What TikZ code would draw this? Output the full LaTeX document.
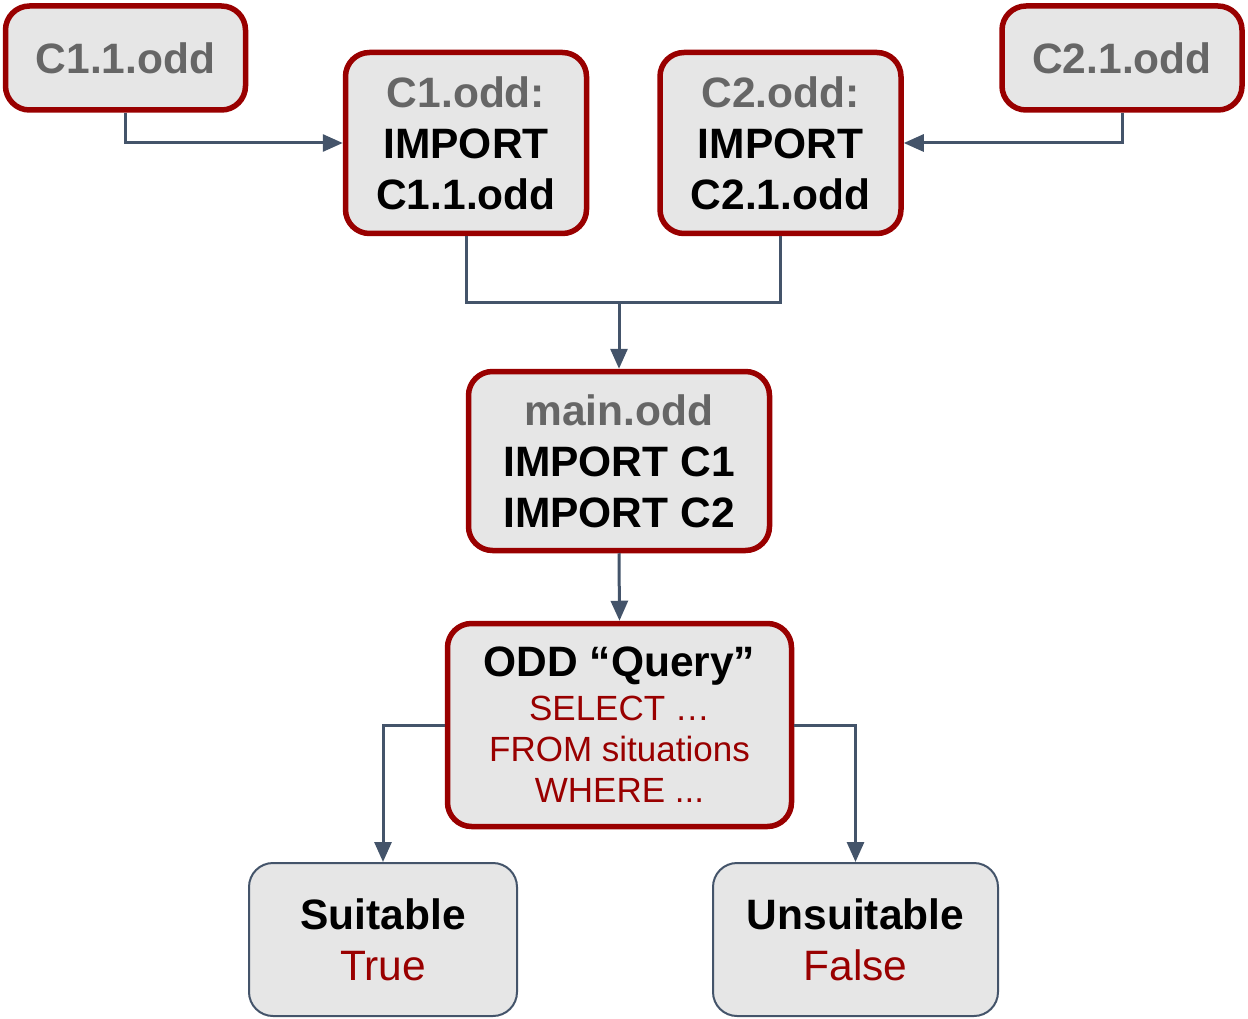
\documentclass[tikz,border=0pt]{standalone}
\usepackage{fontspec}
\setmainfont{Liberation Sans}
\usetikzlibrary{arrows.meta}
\definecolor{boxred}{HTML}{990000}
\definecolor{boxfill}{HTML}{E6E6E6}
\definecolor{wirecol}{HTML}{44546A}
\definecolor{greytext}{HTML}{666666}
\newcommand{\fname}[1]{\textcolor{greytext}{#1}}
\newcommand{\sql}[1]{{\fontsize{35}{41}\mdseries\selectfont\textcolor{boxred}{#1}}}
\newcommand{\res}[1]{{\mdseries\textcolor{boxred}{#1}}}

\begin{document}
\begin{tikzpicture}[x=1pt,y=-1pt,
  oddbox/.style={rectangle,rounded corners=24pt,draw=boxred,line width=5.5pt,
    fill=boxfill,align=center,inner sep=0pt,
    font=\fontsize{42.5}{51}\selectfont\bfseries},
  resbox/.style={oddbox,draw=wirecol,line width=2pt},
  wire/.style={draw=wirecol,line width=3pt},
  arr/.style={wire,-{Triangle[length=20pt,width=17pt]}}]

\useasboundingbox (0,0) rectangle (1248,1019);


\node[oddbox,minimum width=240,minimum height=104] (c11) at (125.5,58)
{\fname{C1.1.odd}};
\node[oddbox,minimum width=240,minimum height=104] (c21) at (1122,58)
{\fname{C2.1.odd}};

\node[oddbox,minimum width=241,minimum height=181] (c1) at (466,143)
{\fname{C1.odd:}\\IMPORT\\C1.1.odd};
\node[oddbox,minimum width=241,minimum height=181] (c2) at (780.5,143)
{\fname{C2.odd:}\\IMPORT\\C2.1.odd};

\draw[arr] (c11.south) |- (c1.west);
\draw[arr] (c21.south) |- (c2.east);


\node[oddbox,minimum width=301,minimum height=179] (main) at (619,461)
{\fname{main.odd}\\IMPORT C1\\IMPORT C2};

\coordinate (join) at (619,302);
\draw[wire] (c1.south) |- (join) -| (c2.south);
\draw[arr] (join) -- (main.north);


\node[oddbox,minimum width=344,minimum height=203] (query) at (619.5,725)
{ODD “Query”\\[-7pt]\sql{SELECT …}\\[-10pt]\sql{FROM situations}\\[-10pt]\sql{WHERE ...}};

\draw[arr] (main.south) -- (query.north);


\node[resbox,minimum width=268,minimum height=153] (suit) at (383,939.5)
{Suitable\\\res{True}};
\node[resbox,minimum width=285,minimum height=153] (unsuit) at (855.5,939.5)
{Unsuitable\\\res{False}};

\draw[arr] (query.west) -| (suit.north);
\draw[arr] (query.east) -| (unsuit.north);

\end{tikzpicture}
\end{document}
